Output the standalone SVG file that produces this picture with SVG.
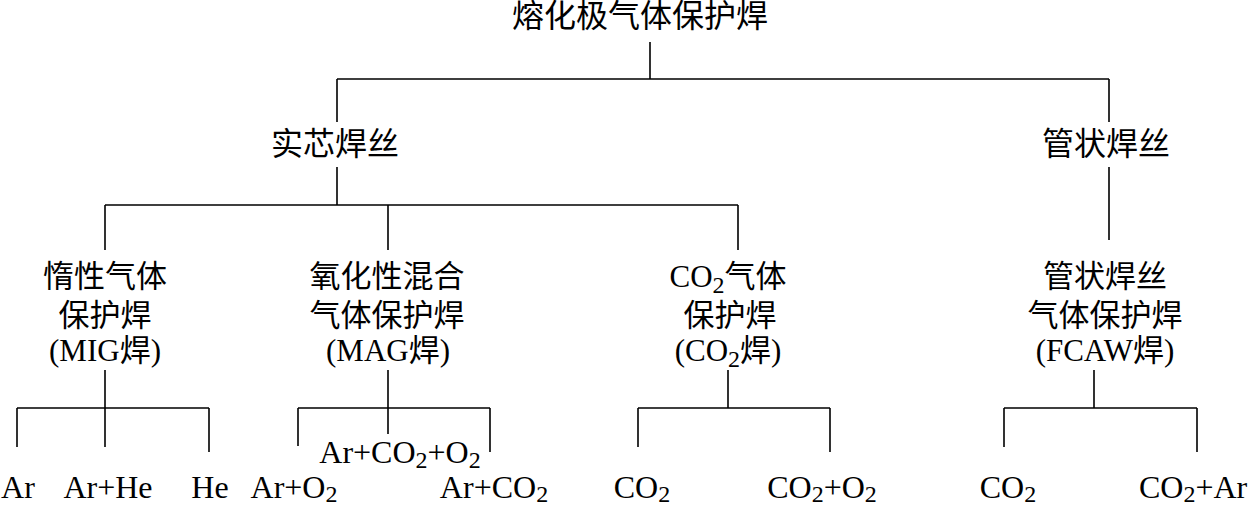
<svg xmlns="http://www.w3.org/2000/svg" width="1249" height="507" viewBox="0 0 1249 507">
<style>
.t{font-family:"Liberation Serif","Noto Sans CJK SC",serif;font-size:31px;fill:#000;text-anchor:middle}
.b{font-size:32px}
.lf{font-family:"Liberation Serif","Noto Sans CJK SC",serif;font-size:32px;fill:#000;text-anchor:middle}
.st{text-anchor:start}
.s{font-size:24px}
#connectors path{stroke:#000;stroke-width:1.6;fill:none}
</style>
<rect width="1249" height="507" fill="#fff"/>
<g id="connectors">
<path d="M650 42V79M337 79H1109M337 79V122M1109 79V122"/>
<path d="M337 167V205M105 205H738M105 205V250M388 205V250M738 205V250M1109 167V240"/>
<path d="M105 370V408M17 408H209M17 408V447M105 408V447M209 408V452"/>
<path d="M388 370V408M298 408H490M298 408V446M388 408V434M490 408V452"/>
<path d="M728 370V408M638 408H830M638 408V447M830 408V452"/>
<path d="M1094 370V408M1004 408H1197M1004 408V447M1197 408V452"/>
</g>
<g id="root"><text class="t b" x="640" y="27">熔化极气体保护焊</text></g>
<g id="solid"><text class="t b" x="335" y="155">实芯焊丝</text></g>
<g id="tubular"><text class="t b" x="1106" y="155">管状焊丝</text></g>
<g id="mig">
<text class="t" x="105" y="287">惰性气体</text>
<text class="t" x="105" y="326">保护焊</text>
<text class="t" x="105" y="361">(MIG焊)</text>
</g>
<g id="mag">
<text class="t" x="387" y="287">氧化性混合</text>
<text class="t" x="387" y="326">气体保护焊</text>
<text class="t" x="388" y="361">(MAG焊)</text>
</g>
<g id="co2">
<text class="t" x="728" y="287">CO<tspan class="s" dy="6">2</tspan><tspan dy="-6">气体</tspan></text>
<text class="t" x="730" y="326">保护焊</text>
<text class="t" x="728" y="361">(CO<tspan class="s" dy="6">2</tspan><tspan dy="-6">焊)</tspan></text>
</g>
<g id="fcaw">
<text class="t" x="1105" y="287">管状焊丝</text>
<text class="t" x="1105" y="326">气体保护焊</text>
<text class="t" x="1105" y="361">(FCAW焊)</text>
</g>
<g id="leaf-ar"><text class="lf" x="18" y="498">Ar</text></g>
<g id="leaf-arhe"><text class="lf" x="108" y="498">Ar+He</text></g>
<g id="leaf-he"><text class="lf" x="210" y="498">He</text></g>
<g id="leaf-aro2"><text class="lf" x="294" y="498">Ar+O<tspan class="s" dy="4">2</tspan></text></g>
<g id="leaf-arco2o2"><text class="lf" x="400" y="463">Ar+CO<tspan class="s" dy="5">2</tspan><tspan dy="-5">+O</tspan><tspan class="s" dy="5">2</tspan></text></g>
<g id="leaf-arco2"><text class="lf" x="494" y="498">Ar+CO<tspan class="s" dy="4">2</tspan></text></g>
<g id="leaf-co2a"><text class="lf" x="642" y="498">CO<tspan class="s" dy="4">2</tspan></text></g>
<g id="leaf-co2o2"><text class="lf" x="822" y="498">CO<tspan class="s" dy="4">2</tspan><tspan dy="-4">+O</tspan><tspan class="s" dy="4">2</tspan></text></g>
<g id="leaf-co2b"><text class="lf" x="1008" y="498">CO<tspan class="s" dy="4">2</tspan></text></g>
<g id="leaf-co2ar"><text class="lf st" x="1139" y="498">CO<tspan class="s" dy="4">2</tspan><tspan dy="-4">+Ar</tspan></text></g>
</svg>
